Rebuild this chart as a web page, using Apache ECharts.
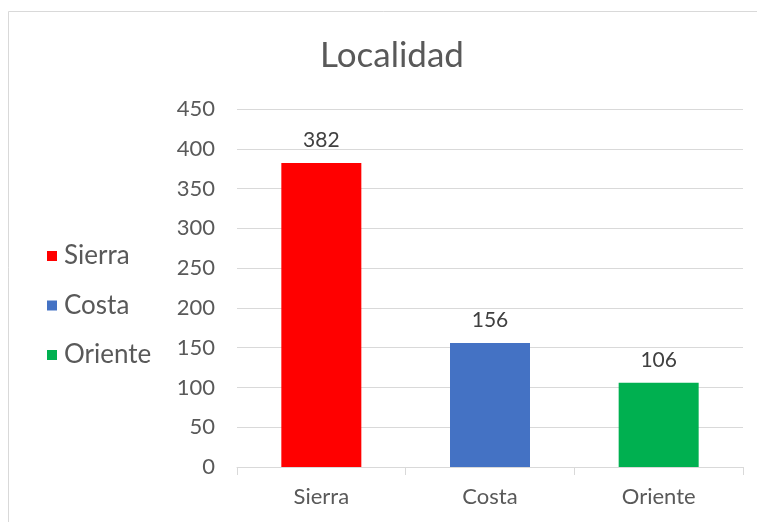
<!DOCTYPE html>
<html>
<head>
<meta charset="utf-8">
<script src="https://cdn.jsdelivr.net/npm/echarts@6/dist/echarts.min.js"></script>
<style>
html,body{margin:0;padding:0;background:#fff;}
#chart{width:757px;height:522px;}
</style>
</head>
<body>
<div id="chart"></div>
<script>
const titleText = 'Localidad';
const categories = ['Sierra', 'Costa', 'Oriente'];
const values = [382, 156, 106];
const colors = ['#ff0000', '#4472c4', '#00b050'];
const yTicks = [0, 50, 100, 150, 200, 250, 300, 350, 400, 450];

const FONT = 'Lato, "Noto Sans", sans-serif';
const chart = echarts.init(document.getElementById('chart'), null, {renderer: 'canvas'});

const series = categories.map((name, i) => ({
  name: name,
  type: 'bar',
  stack: 'all',
  barWidth: 80,
  data: categories.map((c, j) => (j === i ? values[i] : '-')),
  itemStyle: {color: colors[i]},
  label: {
    show: true,
    position: 'top',
    distance: 12,
    color: '#404040',
    fontSize: 21,
    fontFamily: FONT
  }
}));

chart.setOption({
  animation: false,
  backgroundColor: '#ffffff',
  title: {
    text: titleText,
    left: 387,
    textAlign: 'center',
    top: 33,
    textStyle: {color: '#595959', fontSize: 35, fontWeight: 'normal', fontFamily: FONT}
  },
  legend: {
    orient: 'vertical',
    left: 42,
    top: 238,
    itemWidth: 10,
    itemHeight: 10,
    itemGap: 23.5,
    icon: 'rect',
    data: categories,
    textStyle: {color: '#595959', fontSize: 26, lineHeight: 26, fontFamily: FONT, padding: [0, 0, 0, 2]}
  },
  graphic: [{
    type: 'rect',
    shape: {x: 8.5, y: 11.5, width: 760, height: 520},
    style: {fill: 'none', stroke: '#d9d9d9', lineWidth: 1},
    silent: true
  }],
  grid: {left: 237, right: 14, top: 109, bottom: 55},
  xAxis: {
    type: 'category',
    data: categories,
    axisLine: {lineStyle: {color: '#d9d9d9', width: 1}},
    axisTick: {show: true, length: 8, lineStyle: {color: '#d9d9d9'}},
    axisLabel: {color: '#595959', fontSize: 22, fontFamily: FONT, margin: 19}
  },
  yAxis: {
    type: 'value',
    min: yTicks[0],
    max: yTicks[yTicks.length - 1],
    interval: 50,
    axisLine: {show: false},
    axisTick: {show: false},
    splitLine: {lineStyle: {color: '#d9d9d9', width: 1}},
    axisLabel: {color: '#595959', fontSize: 22, fontFamily: FONT, margin: 22}
  },
  series: series
});
</script>
</body>
</html>
